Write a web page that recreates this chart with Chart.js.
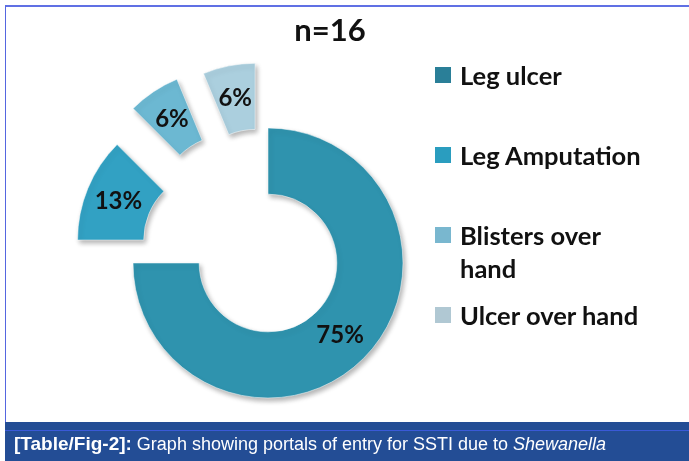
<!DOCTYPE html>
<html>
<head>
<meta charset="utf-8">
<script src="https://cdn.jsdelivr.net/npm/chart.js@4.4.0/dist/chart.umd.min.js"></script>
<style>
  body { margin: 0; width: 689px; height: 461px; background: #fff; position: relative; overflow: hidden; font-family: Lato, "Open Sans", sans-serif; }
  #frame { position: absolute; left: 5px; top: 5px; width: 690px; height: 425px; border-top: 2px solid #6070e4; border-left: 1px solid #5566e0; box-sizing: border-box; }
  #caption { position: absolute; left: 5px; top: 422px; width: 684px; height: 39px; background: #234d95; }
  #caption .line { position: absolute; left: 0; top: 8px; width: 100%; height: 1px; background: #3a5ad8; }
  #caption .txt { position: absolute; left: 9px; top: 11px; color: #fff; font-family: "Liberation Sans", Arial, sans-serif; font-size: 18px; white-space: nowrap; }
  #caption .txt b { font-size: 19px; }
  #chartBox { position: absolute; left: 0; top: 0; width: 689px; height: 422px; }
  #title { position: absolute; left: 230px; width: 200px; top: 10px; text-align: center; font-weight: bold; font-size: 31px; color: #111; }
  #legend { position: absolute; left: 435px; top: 0; }
  .item { position: absolute; left: 0; width: 240px; }
  .item .box { position: absolute; left: 0; width: 16px; height: 16px; }
  .item .lbl { position: absolute; left: 25px; width: 194px; font-weight: bold; font-size: 25.5px; line-height: 33px; color: #111; }
</style>
</head>
<body>
<div id="chartBox"><canvas id="myChart" width="689" height="422"></canvas></div>
<div id="frame"></div>
<div id="title">n=16</div>
<div id="legend"></div>
<div id="caption"><div class="line"></div><div class="txt"><b>[Table/Fig-2]:</b> Graph showing portals of entry for SSTI due to <i>Shewanella</i></div></div>
<script>
// datos del grafico (n=16)
const categorias = ['Leg ulcer', 'Leg Amputation', 'Blisters over hand', 'Ulcer over hand'];
const casos = [12, 2, 1, 1];
const porcentajes = ['75%', '13%', '6%', '6%'];

const colores = ['#2f93ae', '#32a1c3', '#6cb8d2', '#abcfde'];
const coloresLeyenda = ['#2a7f98', '#2a9dbf', '#79b7cf', '#b0c8d3'];
const separacion = [0, 60, 71, 66]; // cuanto se separa cada porcion

// separa las porciones del centro
const explotar = {
    id: 'explotar',
    afterDatasetsUpdate(chart) {
        const meta = chart.getDatasetMeta(0);
        meta.data.forEach(function (arc, i) {
            const d = separacion[i] || 0;
            const medio = (arc.startAngle + arc.endAngle) / 2;
            arc.x += Math.cos(medio) * d;
            arc.y += Math.sin(medio) * d;
        });
    },
    // sombra suave debajo de las porciones
    beforeDatasetsDraw(chart) {
        const c = chart.ctx;
        c.save();
        c.shadowColor = 'rgba(0, 0, 0, 0.3)';
        c.shadowBlur = 5;
        c.shadowOffsetX = 2;
        c.shadowOffsetY = 3;
    },
    afterDatasetsDraw(chart) {
        chart.ctx.restore();
    }
};

// etiquetas de porcentaje dentro de cada porcion
const etiquetas = {
    id: 'etiquetas',
    afterDatasetsDraw(chart) {
        const ctx = chart.ctx;
        const meta = chart.getDatasetMeta(0);
        ctx.save();
        ctx.shadowColor = 'transparent';
        ctx.font = 'bold 24px Lato, "Open Sans", sans-serif';
        ctx.fillStyle = '#111';
        ctx.textAlign = 'center';
        ctx.textBaseline = 'middle';
        meta.data.forEach(function (arc, i) {
            const p = arc.getCenterPoint();
            ctx.fillText(porcentajes[i], p.x, p.y);
        });
        ctx.restore();
    }
};

const ctx = document.getElementById('myChart').getContext('2d');
const myChart = new Chart(ctx, {
    type: 'doughnut',
    data: {
        labels: categorias,
        datasets: [{
            data: casos,
            backgroundColor: colores,
            borderColor: 'rgba(255, 255, 255, 0.5)',
            borderWidth: 1,
            clip: false
        }]
    },
    options: {
        responsive: false,
        animation: false,
        radius: 135,
        cutout: '51%',
        layout: { padding: { left: 130, right: 283, top: 123, bottom: 19 } },
        plugins: {
            legend: { display: false },
            tooltip: { enabled: false }
        }
    },
    plugins: [explotar, etiquetas]
});

// leyenda en html
const leyenda = document.getElementById('legend');
categorias.forEach(function (nombre, i) {
    const centro = 75 + i * 80;
    const item = document.createElement('div');
    item.className = 'item';
    item.style.top = (centro - 16) + 'px';
    item.innerHTML = '<div class="box" style="top:8px;background:' + coloresLeyenda[i] + '"></div>' +
        '<div class="lbl">' + nombre + '</div>';
    leyenda.appendChild(item);
});
</script>
</body>
</html>
